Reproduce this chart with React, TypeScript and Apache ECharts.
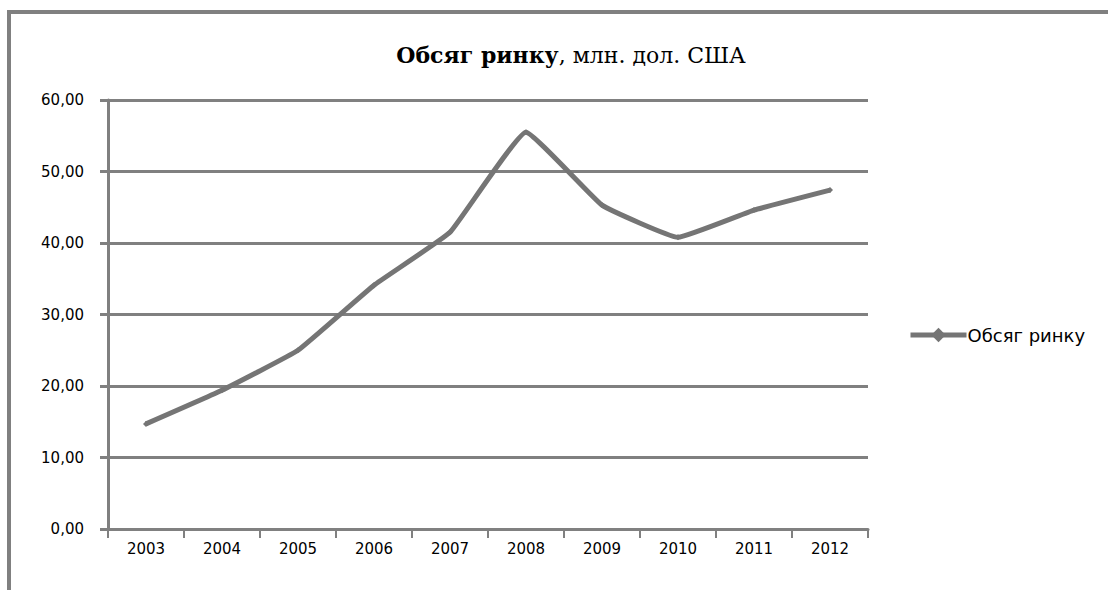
import React, { useEffect, useRef } from "react";
import * as echarts from "echarts";

// Market volume by year, USD millions
const years = ["2003", "2004", "2005", "2006", "2007", "2008", "2009", "2010", "2011", "2012"];
const marketVolume = [14.7, 19.4, 25.0, 34.1, 41.5, 55.5, 45.3, 40.8, 44.6, 47.4];
const seriesName = "Обсяг ринку";
const titleBold = "Обсяг ринку";
const titleRest = ", млн. дол. США";

const GRAY = "#808080";
const LINE = "#757575";
const SANS = "'DejaVu Sans', 'Liberation Sans', sans-serif";
const SERIF = "'DejaVu Serif', 'Liberation Serif', serif";

export default function App() {
  const ref = useRef<HTMLDivElement>(null);

  useEffect(() => {
    document.body.style.margin = "0";
    const chart = echarts.init(ref.current!, undefined, { renderer: "svg" });
    chart.setOption({
      animation: false,
      backgroundColor: "#ffffff",
      title: {
        text: `{b|${titleBold}}{n|${titleRest}}`,
        left: 566,
        top: 39,
        textAlign: "center",
        textStyle: {
          fontWeight: "normal",
          rich: {
            b: { fontFamily: SERIF, fontSize: 22, fontWeight: "bold", color: "#000" },
            n: { fontFamily: SERIF, fontSize: 22, fontWeight: "normal", color: "#000" },
          },
        },
      },
      graphic: [
        {
          type: "rect",
          shape: { x: 9, y: 12, width: 1200, height: 700 },
          style: { fill: "none", stroke: GRAY, lineWidth: 4 },
          silent: true,
        },
      ],
      legend: {
        data: [seriesName],
        left: 903,
        top: 321,
        itemWidth: 56,
        itemHeight: 18,
        itemGap: 0,
        lineStyle: { width: 5 },
        textStyle: { fontFamily: SANS, fontSize: 18, color: "#000", padding: [0, 0, 0, -4] },
      },
      grid: { left: 108, right: 240, top: 100, bottom: 61, containLabel: false },
      xAxis: {
        type: "category",
        data: years,
        boundaryGap: true,
        axisLine: { lineStyle: { color: GRAY, width: 3 } },
        axisTick: { show: true, length: 9, lineStyle: { color: GRAY, width: 2 } },
        axisLabel: { fontFamily: SANS, fontSize: 15, color: "#000", margin: 12 },
      },
      yAxis: {
        type: "value",
        min: 0,
        max: 60,
        interval: 10,
        axisLine: { show: true, lineStyle: { color: GRAY, width: 3 } },
        axisTick: { show: true, length: 8, lineStyle: { color: GRAY, width: 3 } },
        splitLine: { show: true, lineStyle: { color: GRAY, width: 3 } },
        axisLabel: {
          fontFamily: SANS,
          fontSize: 15,
          color: "#000",
          margin: 24,
          formatter: (v: number) => v.toFixed(2).replace(".", ","),
        },
      },
      series: [
        {
          name: seriesName,
          type: "line",
          data: marketVolume,
          smooth: 0.1,
          symbol: "diamond",
          symbolSize: 6,
          showSymbol: true,
          itemStyle: { color: LINE },
          lineStyle: { color: LINE, width: 5 },
        },
      ],
    });
    return () => chart.dispose();
  }, []);

  return <div ref={ref} style={{ width: 1108, height: 590 }} />;
}
